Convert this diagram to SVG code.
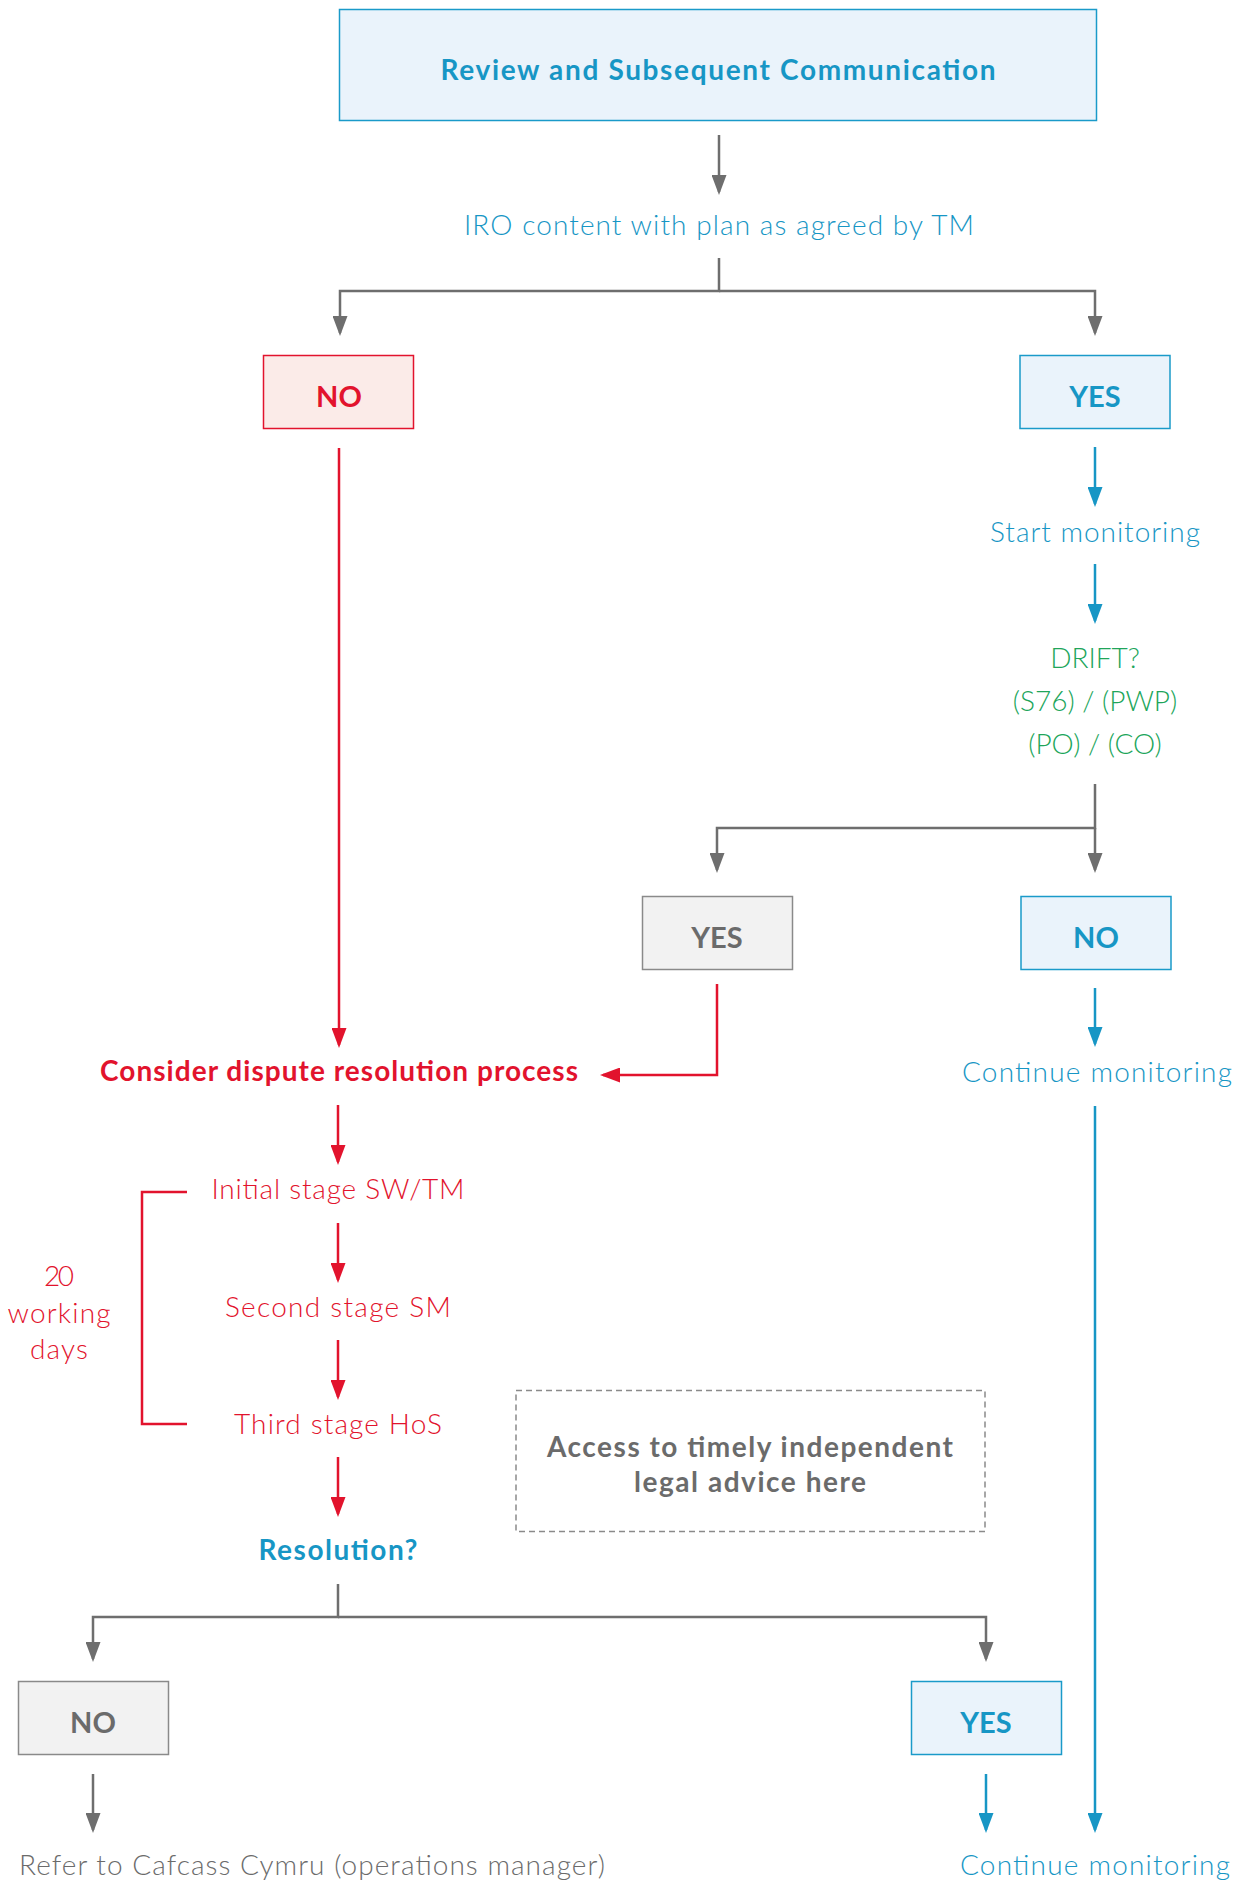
<svg xmlns="http://www.w3.org/2000/svg" width="1237" height="1883" viewBox="0 0 1237 1883">
<defs>
<style>
text{font-family:Lato,"Noto Sans","Liberation Sans",sans-serif;font-size:28px;text-anchor:middle}
.l{font-weight:300}
.b{font-weight:700}
.k{font-size:29px}
.blue{fill:#1796c5}
.red{fill:#e2132d}
.green{fill:#20a55a}
.gray{fill:#6b6b6b}
.cg{fill:none;stroke:#6e6e6e;stroke-width:2.5}
.cb{fill:none;stroke:#1796c5;stroke-width:2.5}
.cr{fill:none;stroke:#e2132d;stroke-width:2.5}
</style>
<marker id="ag" markerUnits="userSpaceOnUse" markerWidth="20" markerHeight="15" refX="17" refY="7.5" orient="auto"><path d="M0,0 L20,7.5 L0,15 Z" fill="#6e6e6e"/></marker>
<marker id="ab" markerUnits="userSpaceOnUse" markerWidth="20" markerHeight="15" refX="17" refY="7.5" orient="auto"><path d="M0,0 L20,7.5 L0,15 Z" fill="#1796c5"/></marker>
<marker id="ar" markerUnits="userSpaceOnUse" markerWidth="20" markerHeight="15" refX="17" refY="7.5" orient="auto"><path d="M0,0 L20,7.5 L0,15 Z" fill="#e2132d"/></marker>
</defs>
<rect width="1237" height="1883" fill="#ffffff"/>

<g id="connectors">
<path class="cg" d="M719 135 V192" marker-end="url(#ag)"/>
<path class="cg" d="M719 258 V291 H340 V333" marker-end="url(#ag)"/>
<path class="cg" d="M719 291 H1095 V333" marker-end="url(#ag)"/>
<path class="cb" d="M1095 447 V504" marker-end="url(#ab)"/>
<path class="cb" d="M1095 564 V621" marker-end="url(#ab)"/>
<path class="cg" d="M1095 784 V828 H717 V870" marker-end="url(#ag)"/>
<path class="cg" d="M1095 828 V870" marker-end="url(#ag)"/>
<path class="cr" d="M339 448 V1045" marker-end="url(#ar)"/>
<path class="cr" d="M717 984 V1075 H603" marker-end="url(#ar)"/>
<path class="cb" d="M1095 988 V1044" marker-end="url(#ab)"/>
<path class="cb" d="M1095 1106 V1830" marker-end="url(#ab)"/>
<path class="cr" d="M338 1105 V1162" marker-end="url(#ar)"/>
<path class="cr" d="M338 1223 V1280" marker-end="url(#ar)"/>
<path class="cr" d="M338 1340 V1397" marker-end="url(#ar)"/>
<path class="cr" d="M338 1457 V1514" marker-end="url(#ar)"/>
<path class="cr" d="M187 1192 H142 V1424 H187"/>
<path class="cg" d="M338 1584 V1617 H93 V1659" marker-end="url(#ag)"/>
<path class="cg" d="M338 1617 H986 V1659" marker-end="url(#ag)"/>
<path class="cg" d="M93 1774 V1830" marker-end="url(#ag)"/>
<path class="cb" d="M986 1774 V1830" marker-end="url(#ab)"/>
</g>

<g id="title">
<rect x="339.5" y="9.5" width="757" height="111" fill="#eaf3fb" stroke="#1a9ac9" stroke-width="1.5"/>
<text class="b blue" x="718" y="80" textLength="555">Review and Subsequent Communication</text>
</g>
<g id="iro"><text class="l blue" x="719" y="235" textLength="510">IRO content with plan as agreed by TM</text></g>
<g id="no1">
<rect x="263.5" y="355.5" width="150" height="73" fill="#fbebe8" stroke="#e2132d" stroke-width="1.5"/>
<text class="b k red" x="339" y="407">NO</text>
</g>
<g id="yes1">
<rect x="1020" y="355.5" width="150" height="73" fill="#eaf3fb" stroke="#1a9ac9" stroke-width="1.5"/>
<text class="b k blue" x="1095" y="407">YES</text>
</g>
<g id="start"><text class="l blue" x="1095" y="542" textLength="210">Start monitoring</text></g>
<g id="drift">
<text class="l green" x="1095" y="668">DRIFT?</text>
<text class="l green" x="1095" y="711">(S76) / (PWP)</text>
<text class="l green" x="1095" y="754">(PO) / (CO)</text>
</g>
<g id="yes2">
<rect x="642.5" y="896.5" width="150" height="73" fill="#f2f2f2" stroke="#8a8a8a" stroke-width="1.5"/>
<text class="b k gray" x="717" y="948">YES</text>
</g>
<g id="no2">
<rect x="1021" y="896.5" width="150" height="73" fill="#eaf3fb" stroke="#1a9ac9" stroke-width="1.5"/>
<text class="b k blue" x="1096" y="948">NO</text>
</g>
<g id="consider"><text class="b red" x="339" y="1081" textLength="478">Consider dispute resolution process</text></g>
<g id="continue1"><text class="l blue" x="1097" y="1082" textLength="270">Continue monitoring</text></g>
<g id="initial"><text class="l red" x="338" y="1199" textLength="253">Initial stage SW/TM</text></g>
<g id="second"><text class="l red" x="338" y="1317" textLength="226">Second stage SM</text></g>
<g id="third"><text class="l red" x="338" y="1434" textLength="208">Third stage HoS</text></g>
<g id="days">
<text class="l red" x="59" y="1286" textLength="30">20</text>
<text class="l red" x="59" y="1323" textLength="103">working</text>
<text class="l red" x="59" y="1359" textLength="58">days</text>
</g>
<g id="legal">
<rect x="516" y="1390.5" width="469" height="141" fill="none" stroke="#8a8a8a" stroke-width="1.5" stroke-dasharray="6 4"/>
<text class="b gray" x="750" y="1457" textLength="406">Access to timely independent</text>
<text class="b gray" x="750" y="1492" textLength="232">legal advice here</text>
</g>
<g id="resolution"><text class="b blue" x="338" y="1560" textLength="159">Resolution?</text></g>
<g id="no3">
<rect x="18.5" y="1681.5" width="150" height="73" fill="#f2f2f2" stroke="#8a8a8a" stroke-width="1.5"/>
<text class="b k gray" x="93" y="1733">NO</text>
</g>
<g id="yes3">
<rect x="911.5" y="1681.5" width="150" height="73" fill="#eaf3fb" stroke="#1a9ac9" stroke-width="1.5"/>
<text class="b k blue" x="986" y="1733">YES</text>
</g>
<g id="refer"><text class="l gray" x="19" y="1875" style="text-anchor:start" textLength="586">Refer to Cafcass Cymru (operations manager)</text></g>
<g id="continue2"><text class="l blue" x="1095" y="1875" textLength="270">Continue monitoring</text></g>
</svg>
